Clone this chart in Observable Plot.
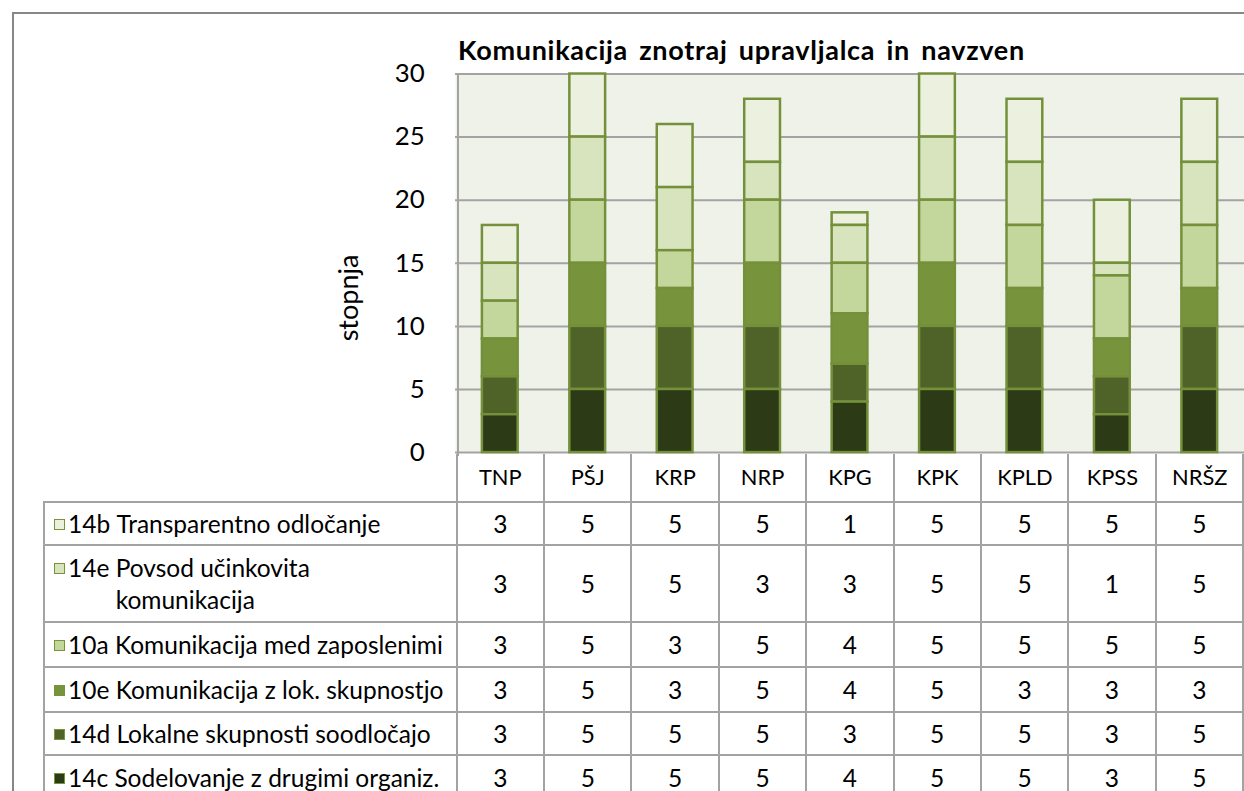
<!DOCTYPE html>
<html><head><meta charset="utf-8">
<script src="https://cdn.jsdelivr.net/npm/d3@7"></script>
<script src="https://cdn.jsdelivr.net/npm/@observablehq/plot@0.6"></script>
<style>
html,body{margin:0;padding:0;background:#fff;}
#root{position:relative;width:1244px;height:791px;overflow:hidden;font-family:Lato,sans-serif;color:#000;background:#fff;}
#frame{position:absolute;left:12px;top:12px;width:1400px;height:900px;border-left:2px solid #878787;border-top:2px solid #878787;box-sizing:border-box;}
#chart{position:absolute;left:0;top:0;}
#title{position:absolute;left:458px;top:35px;font-weight:bold;font-size:27px;letter-spacing:0.7px;word-spacing:4px;line-height:30px;white-space:nowrap;}
#ytitle{position:absolute;left:347px;top:298px;transform:translate(-50%,-50%) rotate(-90deg);font-size:27px;white-space:nowrap;}
#vline{position:absolute;left:457px;top:74px;width:2px;height:382px;background:#a3a3a3;}
#tbl{position:absolute;left:43px;top:454px;border-collapse:collapse;table-layout:fixed;}
#tbl td{border:2px solid #a3a3a3;padding:0;font-size:24.5px;text-align:center;vertical-align:middle;line-height:32px;}
#tbl td.lab{text-align:left;}
.cell{display:flex;align-items:flex-start;padding-left:9px;}
.sq{display:inline-block;width:11px;height:11px;border:1.5px solid #77933c;margin-top:11px;margin-right:3px;flex:none;box-sizing:border-box;}
.code{flex:none;white-space:pre;}
.rest{flex:1;white-space:pre-line;}
</style></head>
<body>
<div id="root">
  <div id="frame"></div>
  <div id="chart"></div>
  <div id="vline"></div>
  <div id="title"></div>
  <div id="ytitle"></div>
  <table id="tbl"></table>
</div>
<script>
const titleText = "Komunikacija znotraj upravljalca in navzven";
const yLabel = "stopnja";
const categories = ["TNP","PŠJ","KRP","NRP","KPG","KPK","KPLD","KPSS","NRŠZ"];
// table order (top to bottom)
const seriesCodes = ["14b","14e","10a","10e","14d","14c"];
const seriesLabels = ["Transparentno odločanje","Povsod učinkovita\nkomunikacija","Komunikacija med zaposlenimi","Komunikacija z lok. skupnostjo","Lokalne skupnosti soodločajo","Sodelovanje z drugimi organiz."];
const v14b = [3,5,5,5,1,5,5,5,5];
const v14e = [3,5,5,3,3,5,5,1,5];
const v10a = [3,5,3,5,4,5,5,5,5];
const v10e = [3,5,3,5,4,5,3,3,3];
const v14d = [3,5,5,5,3,5,5,3,5];
const v14c = [3,5,5,5,4,5,5,3,5];
const seriesValues = [v14b, v14e, v10a, v10e, v14d, v14c];
const seriesColors = ["#ebf1de","#d7e4bd","#c3d69b","#77933c","#4f6228","#2c3a16"];
const yTicks = [0,5,10,15,20,25,30];

const names = seriesCodes.map((c,i)=>c+" "+seriesLabels[i].replace("\n"," "));
const data = [];
names.forEach((n,si)=>categories.forEach((c,ci)=>data.push({cat:c, series:n, value:seriesValues[si][ci]})));
const stackOrder = names.slice().reverse(); // bottom to top

document.getElementById("title").textContent = titleText;
document.getElementById("ytitle").textContent = yLabel;

const chart = Plot.plot({
  width: 1252, height: 502,
  marginLeft: 458, marginRight: 0, marginTop: 74, marginBottom: 47,
  style: {fontFamily: "Lato, sans-serif", color: "#000", background: "transparent"},
  x: {domain: categories, paddingInner: 0.59, paddingOuter: 0.295, align: 0.5, label: null},
  y: {domain: [0,30], label: null},
  color: {domain: names, range: seriesColors, legend: false},
  marks: [
    Plot.frame({fill: "#eff2e9", stroke: null}),
    Plot.ruleY(yTicks, {stroke: "#a3a3a3", strokeWidth: 2}),
    Plot.axisY({ticks: yTicks, tickSize: 0, tickPadding: 31, fontSize: 26, label: null}),
    Plot.axisX({tickSize: 0, tickPadding: 17, fontSize: 22, label: null}),
    Plot.barY(data, {x: "cat", y: "value", fill: "series", order: stackOrder, stroke: "#74903a", strokeWidth: 2.5})
  ]
});
document.getElementById("chart").appendChild(chart);

// data table
const tbl = document.getElementById("tbl");
const colW = (1252 - 458) / categories.length;
const cg = document.createElement("colgroup");
const c0 = document.createElement("col"); c0.style.width = (458-43)+"px"; cg.appendChild(c0);
categories.forEach(()=>{const c=document.createElement("col"); c.style.width = colW+"px"; cg.appendChild(c);});
tbl.appendChild(cg);
const hr = document.createElement("tr"); hr.style.height = "48px";
const h0 = document.createElement("td"); h0.style.borderTop="none"; h0.style.borderLeft="none"; hr.appendChild(h0);
categories.forEach(()=>{const td=document.createElement("td"); td.style.borderTop="none"; hr.appendChild(td);});
tbl.appendChild(hr);
const rowH = [43, 77, 45, 45, 43, 46];
names.forEach((n,si)=>{
  const tr = document.createElement("tr"); tr.style.height = rowH[si]+"px";
  const td = document.createElement("td"); td.className = "lab";
  const cell = document.createElement("div"); cell.className = "cell";
  const sq = document.createElement("span"); sq.className = "sq"; sq.style.background = seriesColors[si];
  const code = document.createElement("span"); code.className = "code"; code.textContent = seriesCodes[si]+" ";
  const rest = document.createElement("span"); rest.className = "rest"; rest.textContent = seriesLabels[si];
  cell.appendChild(sq); cell.appendChild(code); cell.appendChild(rest);
  td.appendChild(cell); tr.appendChild(td);
  seriesValues[si].forEach(v=>{const d=document.createElement("td"); d.textContent = v; tr.appendChild(d);});
  tbl.appendChild(tr);
});
</script>
</body></html>
